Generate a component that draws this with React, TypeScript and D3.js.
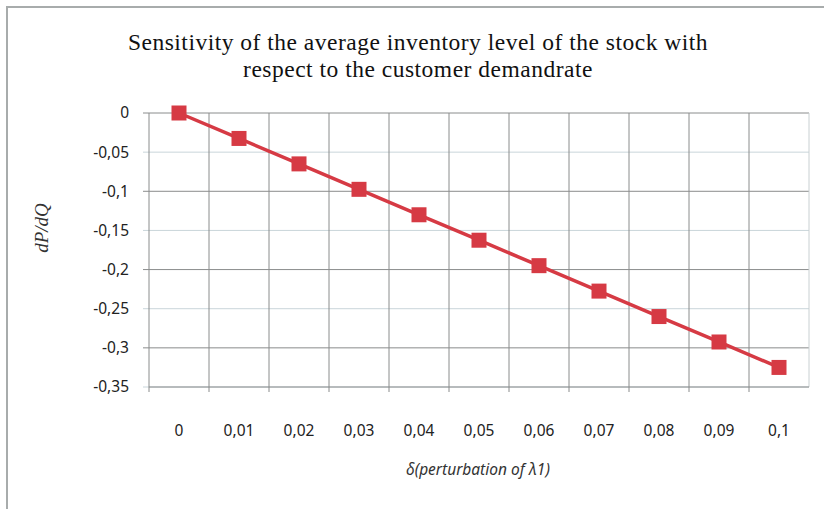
import React from "react";
import * as d3 from "d3";

// Perturbation levels (x categories) and the sensitivity dP/dQ at each
const deltas = ["0", "0,01", "0,02", "0,03", "0,04", "0,05", "0,06", "0,07", "0,08", "0,09", "0,1"];
const sensitivity = [0, -0.0325, -0.065, -0.0975, -0.13, -0.1625, -0.195, -0.2275, -0.26, -0.2925, -0.325];
const yTicks = [0, -0.05, -0.1, -0.15, -0.2, -0.25, -0.3, -0.35];
const titleLines = [
  "Sensitivity of the average inventory level of the stock with",
  "respect to the customer demandrate",
];

const W = 824;
const H = 509;
const plot = { left: 149, right: 809, top: 113, bottom: 387 };
const red = "#d63a44";

// decimal comma and ASCII hyphen for negatives
const fmt = (v: number) => String(+v.toFixed(2)).replace(".", ",");

export default function App() {
  const x = d3.scaleBand<string>().domain(deltas).range([plot.left, plot.right]).padding(0);
  const y = d3.scaleLinear().domain([-0.35, 0]).range([plot.bottom, plot.top]);
  const cx = (d: string) => (x(d) ?? 0) + x.bandwidth() / 2;
  const line = d3
    .line<number>()
    .x((_, i) => cx(deltas[i]))
    .y((v) => y(v));
  const ms = 15;
  const boundaries = deltas.map((d) => x(d) ?? 0).slice(1);

  return (
    <svg
      width={W}
      height={H}
      style={{ position: "absolute", left: 0, top: 0, background: "#fff" }}
    >
      {/* chart frame */}
      <rect x={7} y={7} width={W + 20} height={H + 20} fill="#fff" stroke="#a8acac" strokeWidth={2} />

      {/* title */}
      <text
        x={418}
        textAnchor="middle"
        fontFamily="'Liberation Serif', serif"
        fontSize={23.5}
        letterSpacing={0.5}
        fill="#111"
      >
        {titleLines.map((t, i) => (
          <tspan key={i} x={418} y={50 + i * 27}>
            {t}
          </tspan>
        ))}
      </text>

      {/* horizontal gridlines */}
      {yTicks.map((t, i) => (
        <line
          key={t}
          x1={plot.left - 6}
          x2={plot.right}
          y1={y(t)}
          y2={y(t)}
          stroke={i % 2 === 0 ? "#8a8c8c" : "#c9d5da"}
          strokeWidth={1}
        />
      ))}

      {/* vertical gridlines between categories */}
      {boundaries.map((b) => (
        <line key={b} x1={b} x2={b} y1={plot.top} y2={plot.bottom + 5} stroke="#8a8c8c" strokeWidth={1} />
      ))}

      {/* plot border */}
      <line x1={plot.left} x2={plot.left} y1={plot.top} y2={plot.bottom + 5} stroke="#8a8c8c" />
      <line x1={plot.right} x2={plot.right} y1={plot.top} y2={plot.bottom} stroke="#c9d0d2" />
      <line x1={plot.left} x2={plot.right} y1={plot.bottom} y2={plot.bottom} stroke="#8a8c8c" />

      {/* y tick labels */}
      {yTicks.map((t) => (
        <text
          key={t}
          x={129}
          y={y(t)}
          dy="0.35em"
          textAnchor="end"
          fontFamily="'Noto Sans', sans-serif"
          fontSize={15.5}
          fill="#222"
        >
          {fmt(t)}
        </text>
      ))}

      {/* x tick labels */}
      {deltas.map((d) => (
        <text
          key={d}
          x={cx(d)}
          y={431}
          dy="0.35em"
          textAnchor="middle"
          fontFamily="'Noto Sans', sans-serif"
          fontSize={15.5}
          fill="#222"
        >
          {d}
        </text>
      ))}

      {/* axis titles */}
      <text
        transform={`translate(48,228) rotate(-90)`}
        textAnchor="middle"
        fontFamily="'Liberation Serif', serif"
        fontStyle="italic"
        fontSize={19}
        fill="#333"
      >
        dP/dQ
      </text>
      <text
        x={478}
        y={475}
        textAnchor="middle"
        fontFamily="'Noto Sans', sans-serif"
        fontStyle="italic"
        fontSize={15.5}
        fill="#333"
      >
        δ(perturbation of λ1)
      </text>

      {/* series */}
      <path d={line(sensitivity) ?? ""} fill="none" stroke={red} strokeWidth={3.5} />
      {sensitivity.map((v, i) => (
        <rect
          key={i}
          x={cx(deltas[i]) - ms / 2}
          y={y(v) - ms / 2}
          width={ms}
          height={ms}
          fill={red}
        />
      ))}
    </svg>
  );
}
